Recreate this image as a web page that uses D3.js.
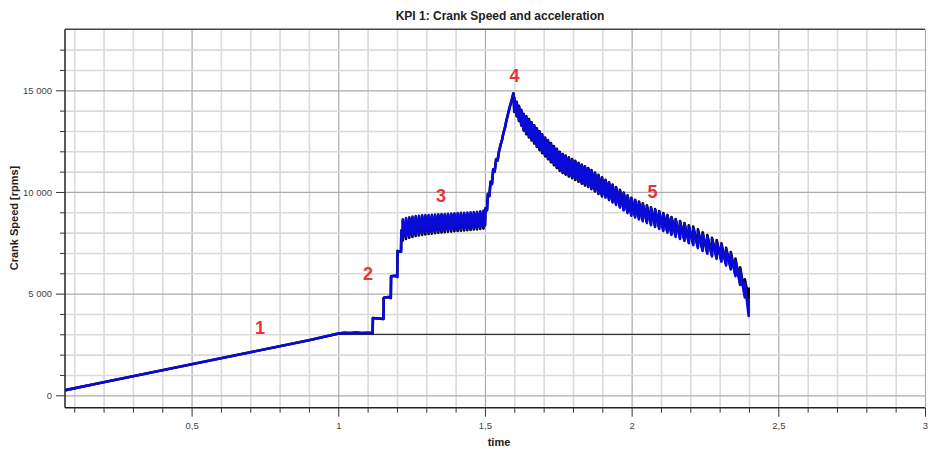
<html>

<head>
    <script src="https://d3js.org/d3.v7.min.js"></script>
    <style>
        body {
            margin: 0;
            background: #fff;
        }

        svg text {
            font-family: "Liberation Sans", Arial, sans-serif;
        }

        .grid line {
            stroke: #dadada;
            stroke-width: 1.6px;
        }

        .grid line.major {
            stroke: #ababab;
            stroke-width: 1.2px;
        }

        .grid .domain {
            stroke: none;
        }

        .axis .domain {
            stroke: #222;
            stroke-width: 1.5px;
        }

        .axis line {
            stroke: #333;
        }

        .axis text {
            fill: #444;
            font-size: 9.5px;
        }
    </style>
</head>

<body>
    <svg id="plot" width="931" height="449"></svg>

    <script>
        // ramp of stage 1 and the flat part after it
        const rampTime = [0.07, 0.2, 0.3, 0.4, 0.5, 0.6, 0.7, 0.8, 0.9, 1.0, 1.02, 1.04, 1.06, 1.08, 1.1, 1.117];
        const rampRpm = [255, 640, 935, 1230, 1525, 1820, 2115, 2410, 2705, 3040, 3070, 3060, 3080, 3060, 3075, 3060];

        // stage 2 steps
        const stepTime = [1.118, 1.135, 1.154, 1.155, 1.170, 1.179, 1.180, 1.195, 1.201, 1.202, 1.214, 1.215];
        const stepRpm = [3800, 3780, 3760, 4800, 4830, 4790, 5850, 5880, 5820, 7100, 7060, 8100];

        // stage 3 oscillation (one entry per tooth)
        const band3Time = [1.220, 1.231, 1.242, 1.253, 1.264, 1.275, 1.286, 1.297, 1.308, 1.319, 1.330, 1.341, 1.352,
            1.363, 1.374, 1.385, 1.396, 1.407, 1.418, 1.429, 1.440, 1.451, 1.462, 1.473, 1.484, 1.495];
        const band3BlueHi = [8650, 8720, 8760, 8790, 8810, 8830, 8850, 8860, 8870, 8880, 8890, 8900, 8910,
            8920, 8930, 8940, 8950, 8960, 8970, 8980, 8990, 9000, 9010, 9030, 9050, 9080];
        const band3BlueLo = [7700, 7780, 7840, 7880, 7920, 7950, 7980, 8000, 8020, 8040, 8060, 8080, 8100,
            8110, 8130, 8140, 8160, 8170, 8180, 8200, 8210, 8220, 8240, 8250, 8270, 8290];
        const band3BlackHi = [8590, 8660, 8700, 8730, 8750, 8770, 8790, 8800, 8810, 8820, 8830, 8840, 8850,
            8860, 8870, 8880, 8890, 8900, 8910, 8920, 8930, 8940, 8950, 8970, 8990, 9020];
        const band3BlackLo = [7610, 7690, 7750, 7790, 7830, 7860, 7890, 7910, 7930, 7950, 7970, 7990, 8010,
            8020, 8040, 8050, 8070, 8080, 8090, 8110, 8120, 8130, 8150, 8160, 8180, 8200];

        // stage 4 rise to the peak
        const riseTime = [1.500, 1.502, 1.507, 1.510, 1.515, 1.519, 1.524, 1.528, 1.533, 1.538, 1.543, 1.548, 1.553,
            1.558, 1.563, 1.568, 1.573, 1.578, 1.584, 1.590, 1.597];
        const riseRpm = [8350, 9200, 9100, 9900, 9800, 10500, 10400, 11100, 11000, 11600, 11550, 12000, 12300,
            12550, 12900, 13150, 13500, 13800, 14150, 14450, 14850];

        // stage 5 decay (one entry per tooth)
        const band5Time = [1.600, 1.608, 1.616, 1.624, 1.632, 1.641, 1.650, 1.659, 1.668, 1.677, 1.686, 1.695,
            1.705, 1.715, 1.725, 1.735, 1.745, 1.755, 1.765, 1.775, 1.786, 1.797, 1.808, 1.819, 1.830, 1.841,
            1.852, 1.863, 1.875, 1.887, 1.899, 1.911, 1.923, 1.935, 1.947, 1.960, 1.973, 1.986, 1.999, 2.012,
            2.025, 2.038, 2.052, 2.066, 2.080, 2.094, 2.108, 2.122, 2.136, 2.150, 2.165, 2.180, 2.195, 2.210,
            2.226, 2.242, 2.258, 2.274, 2.290, 2.306, 2.322, 2.338, 2.354, 2.370, 2.386, 2.399];
        const band5BlueHi = [14600, 14400, 14200, 14000, 13800, 13680, 13540, 13390, 13240, 13090, 12940, 12790,
            12640, 12500, 12360, 12220, 12080, 11940, 11830, 11750, 11660, 11580, 11490, 11400, 11310, 11220,
            11140, 11040, 10920, 10800, 10680, 10560, 10440, 10320, 10200, 10070, 9930, 9800, 9670, 9580,
            9490, 9400, 9310, 9210, 9120, 9020, 8920, 8830, 8730, 8630, 8530, 8430, 8320, 8220,
            8080, 7940, 7800, 7670, 7550, 7390, 7180, 6970, 6620, 6170, 5530, 4750];
        const band5BlueLo = [14000, 13780, 13550, 13320, 13080, 12900, 12740, 12590, 12440, 12270, 12120, 11970,
            11810, 11670, 11520, 11380, 11240, 11100, 10990, 10910, 10820, 10740, 10650, 10560, 10470, 10380,
            10300, 10200, 10080, 9960, 9840, 9720, 9600, 9480, 9360, 9230, 9090, 8960, 8830, 8740,
            8650, 8560, 8470, 8370, 8280, 8180, 8080, 7990, 7890, 7790, 7690, 7590, 7480, 7380,
            7240, 7100, 6960, 6830, 6710, 6570, 6380, 6190, 5860, 5430, 4810, 3900];
        const band5BlackHi = [14640, 14440, 14240, 14040, 13840, 13720, 13580, 13430, 13280, 13130, 12980, 12830,
            12680, 12540, 12400, 12260, 12120, 11980, 11870, 11790, 11700, 11620, 11530, 11440, 11350, 11260,
            11180, 11080, 10960, 10840, 10720, 10600, 10480, 10360, 10240, 10110, 9970, 9840, 9710, 9620,
            9530, 9440, 9350, 9250, 9160, 9060, 8960, 8870, 8770, 8670, 8570, 8470, 8360, 8300,
            8160, 8020, 7880, 7750, 7630, 7470, 7260, 7050, 6720, 6300, 5700, 5300];
        const band5BlackLo = [13940, 13720, 13490, 13260, 13020, 12840, 12680, 12530, 12380, 12210, 12060, 11910,
            11750, 11610, 11460, 11320, 11180, 11040, 10930, 10850, 10760, 10680, 10590, 10500, 10410, 10320,
            10240, 10140, 10020, 9900, 9780, 9780, 9660, 9540, 9420, 9290, 9150, 9020, 8890, 8800,
            8710, 8620, 8530, 8430, 8340, 8240, 8140, 8050, 7950, 7850, 7750, 7650, 7540, 7440,
            7300, 7160, 7020, 6890, 6770, 6630, 6440, 6250, 5920, 5490, 4900, 4780];

        // speed limit line
        const refTime = [0.07, 1.0, 2.404];
        const refRpm = [255, 3000, 3000];

        // numbered stage labels
        const stageText = ["1", "2", "3", "4", "5"];
        const stageTime = [0.733, 1.101, 1.350, 1.601, 2.071];
        const stageRpm = [3015, 5670, 9507, 15427, 9704];

        const xMajor = [0.5, 1, 1.5, 2, 2.5, 3];
        const yMajor = [0, 5000, 10000, 15000];

        const svg = d3.select("#plot");
        const margin = {
            top: 29.3,
            right: 6,
            bottom: 41.3,
            left: 65
        };
        const width = +svg.attr("width");
        const height = +svg.attr("height");

        const x = d3.scaleLinear().domain([0.0685, 3.0]).range([margin.left, width - margin.right]);
        const y = d3.scaleLinear().domain([-610, 18000]).range([height - margin.bottom, margin.top]);

        const loc = d3.formatLocale({
            decimal: ",",
            thousands: " ",
            grouping: [3],
            currency: ["", ""]
        });
        const fmtY = loc.format(",d");
        const fmtX = loc.format("~g");

        const xMinor = d3.range(1, 31).map(i => i / 10);
        const yMinor = d3.range(0, 18000, 1000);

        // grid
        const gx = svg.append("g").attr("class", "grid")
            .attr("transform", `translate(0,${height - margin.bottom})`)
            .call(d3.axisBottom(x).tickValues(xMinor).tickSize(-(height - margin.bottom - margin.top)).tickFormat(""));
        gx.selectAll(".tick line").classed("major", d => xMajor.some(m => Math.abs(m - d) < 1e-6));

        const gy = svg.append("g").attr("class", "grid")
            .attr("transform", `translate(${margin.left},0)`)
            .call(d3.axisLeft(y).tickValues(yMinor).tickSize(-(width - margin.left - margin.right)).tickFormat(""));
        gy.selectAll(".tick line").classed("major", d => yMajor.includes(d));

        // series
        function teeth(times, hi, lo) {
            return times.flatMap((t, i) => [[t, lo[i]], [t, hi[i]]]);
        }

        function series(bandHi3, bandLo3, bandHi5, bandLo5) {
            return [
                ...rampTime.map((t, i) => [t, rampRpm[i]]),
                ...stepTime.map((t, i) => [t, stepRpm[i]]),
                ...teeth(band3Time, bandHi3, bandLo3),
                ...riseTime.map((t, i) => [t, riseRpm[i]]),
                ...teeth(band5Time, bandHi5, bandLo5)
            ];
        }

        const line = d3.line().x(d => x(d[0])).y(d => y(d[1]));

        svg.append("path")
            .attr("d", line(refTime.map((t, i) => [t, refRpm[i]])))
            .attr("fill", "none")
            .attr("stroke", "#333")
            .attr("stroke-width", 1.2);

        svg.append("path")
            .attr("d", line(series(band3BlackHi, band3BlackLo, band5BlackHi, band5BlackLo)))
            .attr("fill", "none")
            .attr("stroke", "#000")
            .attr("stroke-width", 2.6)
            .attr("stroke-linejoin", "round");

        svg.append("path")
            .attr("d", line(series(band3BlueHi, band3BlueLo, band5BlueHi, band5BlueLo)))
            .attr("fill", "none")
            .attr("stroke", "#0a0ad8")
            .attr("stroke-width", 2.6)
            .attr("stroke-linejoin", "round");

        // axes
        const xAxis = svg.append("g").attr("class", "axis")
            .attr("transform", `translate(0,${height - margin.bottom})`)
            .call(d3.axisBottom(x).tickValues(xMinor).tickSize(9).tickPadding(6)
                .tickFormat(d => xMajor.some(m => Math.abs(m - d) < 1e-6) ? fmtX(d) : ""));
        xAxis.selectAll(".tick line").attr("y2", d => xMajor.some(m => Math.abs(m - d) < 1e-6) ? 9 : 5);
        xAxis.select(".domain").attr("d", `M${margin.left},0H${width - margin.right}`);

        const yAxis = svg.append("g").attr("class", "axis")
            .attr("transform", `translate(${margin.left},0)`)
            .call(d3.axisLeft(y).tickValues(yMinor).tickSize(9).tickPadding(4)
                .tickFormat(d => yMajor.includes(d) ? fmtY(d) : ""));
        yAxis.selectAll(".tick line").attr("x2", d => yMajor.includes(d) ? -9 : -5);
        yAxis.select(".domain").attr("d", `M0,${margin.top}V${height - margin.bottom}`);

        svg.append("line")
            .attr("x1", margin.left).attr("x2", width - margin.right)
            .attr("y1", margin.top).attr("y2", margin.top)
            .attr("stroke", "#444").attr("stroke-width", 1.5);

        // titles
        svg.append("text")
            .attr("x", 500).attr("y", 20)
            .attr("text-anchor", "middle")
            .attr("font-size", "12px").attr("font-weight", "bold").attr("fill", "#222")
            .text("KPI 1: Crank Speed and acceleration");

        svg.append("text")
            .attr("x", 499).attr("y", 446)
            .attr("text-anchor", "middle")
            .attr("font-size", "11px").attr("font-weight", "bold").attr("fill", "#222")
            .text("time");

        svg.append("text")
            .attr("transform", "translate(18,218) rotate(-90)")
            .attr("text-anchor", "middle")
            .attr("font-size", "11px").attr("font-weight", "bold").attr("fill", "#222")
            .text("Crank Speed [rpms]");

        // stage numbers
        svg.selectAll("text.stage").data(stageText)
            .join("text")
            .attr("class", "stage")
            .attr("x", (d, i) => x(stageTime[i]))
            .attr("y", (d, i) => y(stageRpm[i]))
            .attr("text-anchor", "middle")
            .attr("font-size", "18px").attr("font-weight", "bold").attr("fill", "#e8333b")
            .text(d => d);
    </script>
</body>

</html>
